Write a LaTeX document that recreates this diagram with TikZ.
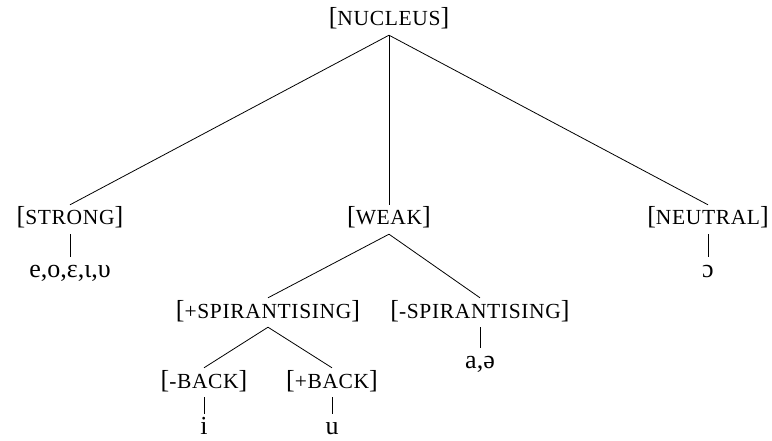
\documentclass[tikz,border=0pt]{standalone}
\usepackage{fontspec}
\setmainfont{Liberation Serif}
\newcommand\smc[1]{{\fontsize{21.5}{23}\selectfont\addfontfeatures{LetterSpace=3}#1}}
\begin{document}
\begin{tikzpicture}[x=1pt,y=-1pt,
  lab/.style={font=\fontsize{26}{28}\selectfont, anchor=base, inner xsep=0pt, inner ysep=4pt, text height=16pt, text depth=5pt},
  leaf/.style={lab, text depth=0pt, inner ysep=2pt, text height=18pt},
  edge/.style={line width=0.8pt}]
\useasboundingbox (0,0) rectangle (772,441);
\node[lab] (nucleus) at (389,26) {[\smc{NUCLEUS}]};
\node[lab] (strong) at (70,225) {[\smc{STRONG}]};
\node[lab] (weak) at (389,225) {[\smc{WEAK}]};
\node[lab] (neutral) at (708,225) {[\smc{NEUTRAL}]};
\node[lab] (sv) at (70,277) {e,o,ɛ,ι,υ};
\node[lab] (nv) at (708,277) {ɔ};
\node[lab] (plus) at (268,318) {[\smc{+SPIRANTISING}]};
\node[lab] (minus) at (480,318) {[\smc{-SPIRANTISING}]};
\node[lab] (av) at (480,368) {a,ə};
\node[lab] (mback) at (204,388) {[\smc{-BACK}]};
\node[lab] (pback) at (332,388) {[\smc{+BACK}]};
\node[leaf] (iv) at (204,434) {i};
\node[leaf] (uv) at (332,434) {u};
\draw[edge] (nucleus.south) -- (strong.north);
\draw[edge] (nucleus.south) -- (weak.north);
\draw[edge] (nucleus.south) -- (neutral.north);
\draw[edge] (strong.south) -- (sv.north);
\draw[edge] (neutral.south) -- (nv.north);
\draw[edge] (weak.south) -- (plus.north);
\draw[edge] (weak.south) -- (minus.north);
\draw[edge] (minus.south) -- (av.north);
\draw[edge] (plus.south) -- (mback.north);
\draw[edge] (plus.south) -- (pback.north);
\draw[edge] (mback.south) -- (iv.north);
\draw[edge] (pback.south) -- (uv.north);
\end{tikzpicture}
\end{document}
